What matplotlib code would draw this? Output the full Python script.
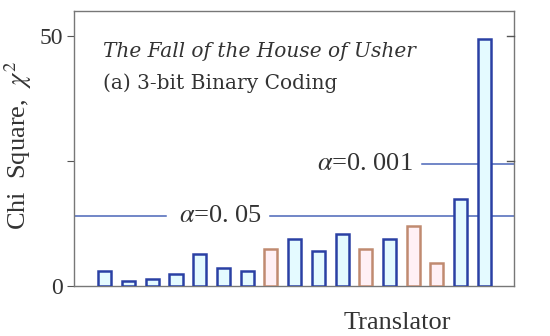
import numpy as np
import matplotlib.pyplot as plt

plt.rcParams['font.family'] = ['Liberation Serif', 'DejaVu Serif']
plt.rcParams['mathtext.fontset'] = 'stix'

# Chi square per translator (17 translators)
translators = np.arange(1, 18)
chi_square = [2.9, 0.9, 1.4, 2.4, 6.4, 3.5, 2.9, 7.45, 9.3, 7.0,
              10.4, 7.45, 9.3, 11.9, 4.5, 17.4, 49.4]
# which bars are drawn in the reddish colour
group = ['b', 'b', 'b', 'b', 'b', 'b', 'b', 'r', 'b', 'b',
         'b', 'r', 'b', 'r', 'r', 'b', 'b']

crit_05 = 14.07
crit_001 = 24.32

edge = {'b': '#2a40a4', 'r': '#c08a70'}
face = {'b': '#e4faff', 'r': '#fff0f5'}
line_col = '#4a66b8'
txt = '#333333'

fig = plt.figure(figsize=(5.5, 3.36), dpi=100)
ax = fig.add_axes([74/550, 1 - 286/336, 440/550, 275.3/336])

# significance lines, broken where the labels sit
ax.plot([-0.3, 3.57], [crit_05, crit_05], color=line_col, lw=1.1, zorder=1)
ax.plot([7.96, 18.3], [crit_05, crit_05], color=line_col, lw=1.1, zorder=1)
ax.plot([14.36, 18.3], [crit_001, crit_001], color=line_col, lw=1.1, zorder=1)
ax.text(5.86, crit_05, r'$\alpha$=0. 05', fontsize=19, ha='center', va='center', color=txt)
ax.text(11.95, crit_001, r'$\alpha$=0. 001', fontsize=19, ha='center', va='center', color=txt)

for x, v, g in zip(translators, chi_square, group):
    ax.bar(x, v, width=0.55, color=face[g], edgecolor=edge[g], linewidth=1.8, zorder=3)

ax.text(0.065, 0.85, 'The Fall of the House of Usher', transform=ax.transAxes,
        fontsize=14.5, style='italic', color=txt, va='center', family=['DejaVu Serif'])
ax.text(0.065, 0.737, '(a) 3-bit Binary Coding', transform=ax.transAxes,
        fontsize=14.5, color=txt, va='center', family=['DejaVu Serif'])

ax.set_xlim(-0.3, 18.25)
ax.set_ylim(0, 55)
ax.set_xticks([])
ax.set_yticks([0, 25, 50])
ax.set_yticklabels(['0', '', '50'], fontsize=17, color=txt)
ax.tick_params(axis='y', direction='out', length=5, color='#555555', pad=3)
ax.set_ylabel(r'Chi  Square,  $\chi^2$', fontsize=19, color=txt)
ax.yaxis.set_label_coords(-0.09, 0.51)
ax.set_xlabel('Translator', fontsize=19, color=txt)
ax.xaxis.set_label_coords(0.735, -0.095)

for s in ax.spines.values():
    s.set_color('#777777')
    s.set_linewidth(1.0)

# inward ticks on the right spine
for yv in [25, 50]:
    ax.plot([18.25 - 0.3, 18.25], [yv, yv], color='#555555', lw=1.0, clip_on=False, zorder=4)

fig.savefig('out.png', dpi=100)
